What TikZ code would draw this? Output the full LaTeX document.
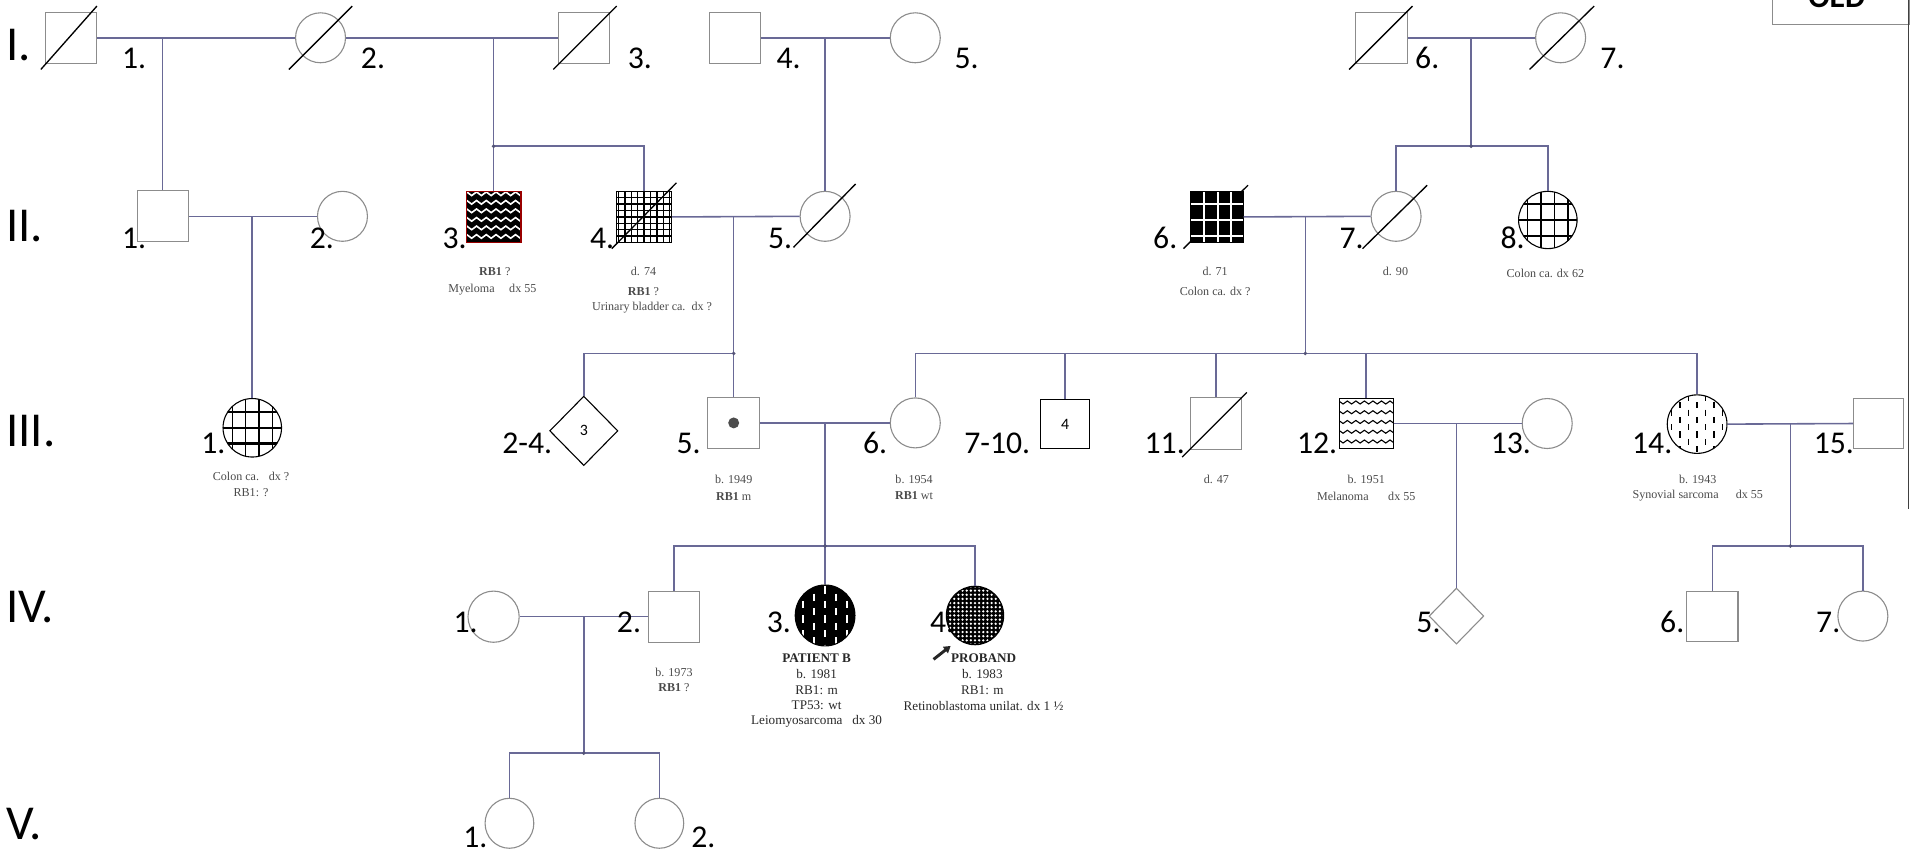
\documentclass[tikz,border=0pt]{standalone}
\usepackage{fontspec}
\setmainfont{Liberation Serif}
\newfontfamily\calib{Carlito}
\usetikzlibrary{shapes.geometric,arrows.meta}
\definecolor{connc}{RGB}{105,105,150}
\definecolor{outl}{RGB}{140,140,140}
\definecolor{annoc}{RGB}{75,75,75}
\definecolor{annod}{RGB}{40,40,40}
\newcommand\deadmark[5]{\draw[slashl] ([shift={(#2,#3)}]#1.center) -- ([shift={(#4,#5)}]#1.center);}
\begin{document}
\begin{tikzpicture}[x=1pt,y=-1pt,
 conn/.style={draw=connc,line width=1.3pt},
 male/.style={rectangle,draw=outl,line width=0.9pt,fill=white,minimum width=42pt,minimum height=42pt,inner sep=0pt},
 fem/.style={ellipse,draw=outl,line width=0.9pt,fill=white,minimum width=41pt,minimum height=41pt,inner sep=0pt},
 unk/.style={diamond,draw=outl,line width=0.9pt,fill=white,minimum width=45pt,minimum height=46pt,inner sep=0pt},
 numlab/.style={font=\calib\fontsize{26}{26}\selectfont,anchor=base west,inner sep=0pt},
 genlab/.style={font=\calib\fontsize{40}{40}\selectfont,anchor=base west,inner sep=0pt},
 anno/.style={font=\fontsize{9.9}{11}\selectfont,text=annoc,inner sep=0pt},
 annob/.style={font=\fontsize{10.8}{12}\selectfont,text=annod,inner sep=0pt},
 slashl/.style={draw=black,line width=1.1pt},
 jdot/.style={fill=connc!80!black},
 gridpat/.style={path picture={\coordinate (ppc) at (path picture bounding box.center);
   \foreach \d in {-16.5,-5.5,5.5,16.5} \draw[black,line width=1.1pt] ([shift={(\d,-30)}]ppc) -- ++(0,60);
   \foreach \d in {-13,0,13} \draw[black,line width=2pt] ([shift={(-30,\d)}]ppc) -- ++(60,0);}}
]
\useasboundingbox (0,0) rectangle (1568,709);

% generation labels
\node[genlab] (gI) at (5,50) {I.};
\node[genlab] (gII) at (5,198) {II.};
\node[genlab] (gIII) at (5,366) {III.};
\node[genlab] (gIV) at (5,511) {IV.};
\node[genlab] (gV) at (5,689) {V.};

% frame pieces
\node[draw=outl,line width=0.9pt,minimum width=112pt,minimum height=40pt,inner sep=0pt,anchor=south west] (oedbox) at (1454,20.5) {};
\begin{scope}
\clip (0,0) rectangle (1568,709);
\node[font=\calib\bfseries\fontsize{26}{26}\selectfont,anchor=base,inner sep=0pt] (oedtxt) at (1507,6) {OED};
\end{scope}
\draw[black!75,line width=0.8pt] (1565.8,0) -- (1565.8,418);

% Generation I
\node[male] (i1) at (58.5,31) {};
\node[fem] (i2) at (263,31) {};
\node[male] (i3) at (479,31) {};
\node[male] (i4) at (603,31) {};
\node[fem] (i5) at (751,31) {};
\node[male] (i6) at (1133.5,31) {};
\node[fem] (i7) at (1280.5,31) {};

% Generation II
\node[male] (ii1) at (133.5,177.5) {};
\node[fem] (ii2) at (281,177.5) {};
\node[male,draw=red!60!black,fill=black,minimum width=45pt,path picture={\coordinate (ppc) at (path picture bounding box.center);
  \foreach \r in {-17.5,-10.5,...,17.5} {\draw[white,line width=1.3pt] ([shift={(-26,\r)}]ppc) \foreach \k in {1,...,7} {-- ++(4,-3) -- ++(4,3)};}}] (ii3) at (405,178) {};
\node[male,draw=black,minimum width=45pt,path picture={\coordinate (ppc) at (path picture bounding box.center);
  \foreach \d in {-21,-15.75,...,21} \draw[black,line width=1.1pt] ([shift={(\d,-25)}]ppc) -- ++(0,50);
  \foreach \d in {-21,-15.75,...,21} \draw[black,line width=1.1pt] ([shift={(-25,\d)}]ppc) -- ++(50,0);}] (ii4) at (528.5,178) {};
\node[fem] (ii5) at (677,177.5) {};
\coordinate (ii6c) at (998.5,178);
\draw[slashl] ([shift={(-27.5,26)}]ii6c) -- ([shift={(25.5,-26)}]ii6c);
\node[male,draw=black,fill=black,minimum width=43pt,path picture={\coordinate (ppc) at (path picture bounding box.center);
  \foreach \d in {-10.5,1,11.5} \draw[white,line width=1.6pt] ([shift={(\d,-25)}]ppc) -- ++(0,50);
  \foreach \d in {-11,2.5,16} \draw[white,line width=1.6pt] ([shift={(-25,\d)}]ppc) -- ++(50,0);}] (ii6) at (ii6c) {};
\node[fem] (ii7) at (1145.5,177.5) {};
\node[fem,draw=black,minimum width=48pt,minimum height=47pt,gridpat] (ii8) at (1270,180.5) {};

% Generation III
\node[fem,draw=black,minimum width=48pt,minimum height=48pt,gridpat] (iii1) at (207,351) {};
\node[unk,draw=black,minimum width=56pt,minimum height=57pt,font=\calib\fontsize{13}{13}\selectfont] (iii24) at (479,353.5) {3};
\node[male,minimum width=43pt] (iii5) at (602,347) {};
\node[circle,fill=black!70,minimum size=9pt,inner sep=0pt] (iii5dot) at (iii5.center) {};
\node[fem] (iii6) at (751,347) {};
\node[male,draw=black,minimum width=40pt,minimum height=40pt,font=\calib\fontsize{13}{13}\selectfont] (iii710) at (874,348) {4};
\node[male] (iii11) at (997.5,347.5) {};
\node[male,draw=black,minimum width=44pt,minimum height=41pt,path picture={\coordinate (ppc) at (path picture bounding box.center);
  \foreach \r in {-16,-8,0,8,16} {\draw[black,line width=0.9pt] ([shift={(-26,\r)}]ppc) \foreach \k in {1,...,8} {-- ++(3.5,-2.5) -- ++(3.5,2.5)};}}] (iii12) at (1121,347.5) {};
\node[fem] (iii13) at (1269.5,347.5) {};
\node[fem,draw=black,minimum width=49pt,minimum height=48pt,path picture={\coordinate (ppc) at (path picture bounding box.center);
  \foreach \c in {0,...,6} {\pgfmathsetmacro\xo{-21+7*\c}\pgfmathsetmacro\yo{mod(\c,2)*6}
   \foreach \j in {-3,...,2} {\pgfmathsetmacro\yy{\j*12+\yo}\draw[black,line width=1.2pt] ([shift={(\xo,\yy)}]ppc) -- ++(0,5);}}}] (iii14) at (1392.5,348) {};
\node[male,minimum width=41pt,minimum height=41pt] (iii15) at (1541.5,347.5) {};

% Generation IV
\node[fem,minimum width=42pt,minimum height=42pt] (iv1) at (405,506) {};
\node[male] (iv2) at (553,506) {};
\node[fem,draw=black,fill=black,minimum width=49pt,minimum height=50pt,path picture={\coordinate (ppc) at (path picture bounding box.center);
  \foreach \c in {0,...,4} {\pgfmathsetmacro\xo{-18+9*\c}\pgfmathsetmacro\yo{mod(\c,2)*6}
   \foreach \j in {-3,...,2} {\pgfmathsetmacro\yy{\j*12+\yo}\draw[white,line width=1.3pt] ([shift={(\xo,\yy)}]ppc) -- ++(0,6);}}}] (iv3) at (677,505) {};
\node[numlab] (lbiv4) at (763,519) {4.};
\node[fem,draw=black,fill=black,minimum width=47pt,minimum height=48pt,path picture={\coordinate (ppc) at (path picture bounding box.center);
  \foreach \i in {-7,...,7} {\foreach \j in {-7,...,7} {\fill[white] ([shift={(\i*3.4,\j*3.4)}]ppc) circle[radius=1.05pt];}}}] (iv4) at (800,505) {};
\node[unk] (iv5) at (1195,505.5) {};
\node[male,minimum height=41pt] (iv6) at (1405,505.5) {};
\node[fem] (iv7) at (1528.5,505.5) {};

% Generation V
\node[fem,minimum width=40pt] (v1) at (418,675.5) {};
\node[fem,minimum width=40pt] (v2) at (541,675.5) {};

% junction coordinates
\coordinate (m12) at (133.5,31);
\coordinate (m23) at (405,31);
\coordinate (m45) at (677,31);
\coordinate (m67) at (1207,31);
\coordinate (s23) at (405,120);
\coordinate (s67) at (1207,120);
\coordinate (mii12) at (207,177.5);
\coordinate (mii45) at (602,177.5);
\coordinate (sii45) at (602,290);
\coordinate (mii67) at (1071,177.5);
\coordinate (sii67) at (1071,290);
\coordinate (miii56) at (677,347);
\coordinate (siii56) at (677,448);
\coordinate (miii1213) at (1195,347.5);
\coordinate (miii1415) at (1469,347.5);
\coordinate (siii1415) at (1469,448);
\coordinate (miv12) at (479,505.5);
\coordinate (siv12) at (479,618);

% connectors
\draw[conn] (i1.east) -- (i2.west);
\draw[conn] (i2.east) -- (i3.west);
\draw[conn] (i4.east) -- (i5.west);
\draw[conn] (i6.east) -- (i7.west);
\draw[conn] (m12) -- (ii1.north);
\draw[conn] (m23) -- (s23) -- (ii3.north);
\draw[conn] (s23) -- (s23 -| ii4.north) -- (ii4.north);
\draw[conn] (m45) -- (ii5.north);
\draw[conn] (m67) -- (s67);
\draw[conn] (ii7.north) -- (ii7.north |- s67) -- (ii8.north |- s67) -- (ii8.north);
\draw[conn] (ii1.east) -- (ii2.west);
\draw[conn] (mii12) -- (iii1.north);
\draw[conn] (ii4.east) -- (ii5.west);
\draw[conn] (mii45) -- (sii45) -- (iii5.north);
\draw[conn] (sii45) -- (sii45 -| iii24.north) -- (iii24.north);
\draw[conn] (ii6.east) -- (ii7.west);
\draw[conn] (mii67) -- (sii67);
\draw[conn] (iii6.north) -- (iii6.north |- sii67) -- (iii14.north |- sii67) -- (iii14.north);
\foreach \n in {iii710,iii11,iii12} \draw[conn] (\n.north) -- (\n.north |- sii67);
\draw[conn] (iii5.east) -- (iii6.west);
\draw[conn] (miii56) -- (siii56);
\draw[conn] (iv2.north) -- (iv2.north |- siii56) -- (iv4.north |- siii56) -- (iv4.north);
\draw[conn] (siii56) -- (iv3.north);
\draw[conn] (iii12.east) -- (iii13.west);
\draw[conn] (miii1213) -- (iv5.north);
\draw[conn] (iii14.east) -- (iii15.west);
\draw[conn] (miii1415) -- (siii1415);
\draw[conn] (iv6.north) -- (iv6.north |- siii1415) -- (iv7.north |- siii1415) -- (iv7.north);
\draw[conn] (iv1.east) -- (iv2.west);
\draw[conn] (miv12) -- (siv12);
\draw[conn] (v1.north) -- (v1.north |- siv12) -- (v2.north |- siv12) -- (v2.north);
\foreach \c in {s23,s67,sii45,sii67,siii56,siii1415,siv12} \fill[jdot] (\c) circle[radius=1.6pt];

% deceased marks
\deadmark{i1}{-25}{26}{21}{-26}
\deadmark{i2}{-26}{26}{26}{-26}
\deadmark{i3}{-25}{26}{27}{-26}
\deadmark{i6}{-26.5}{26}{25.5}{-26}
\deadmark{i7}{-25.5}{26}{27.5}{-26}
\deadmark{ii4}{-26.5}{26}{26.5}{-28}
\deadmark{ii5}{-26}{25.5}{25}{-26.5}
\deadmark{ii7}{-27.5}{26.5}{25.5}{-25.5}
\deadmark{iii11}{-27.5}{27.5}{25.5}{-25.5}

% proband arrow
\coordinate (pat) at (766,541);
\coordinate (pah) at (780,530);
\draw[black!85,line width=2.4pt,-{Triangle[length=5.5pt,width=6.5pt]}] (pat) -- (pah);

% number labels
\node[numlab] (lbi1) at (100,56) {1.};
\node[numlab] (lbi2) at (296,56) {2.};
\node[numlab] (lbi3) at (515,56) {3.};
\node[numlab] (lbi4) at (637,56) {4.};
\node[numlab] (lbi5) at (783,56) {5.};
\node[numlab] (lbi6) at (1161,56) {6.};
\node[numlab] (lbi7) at (1313,56) {7.};
\node[numlab] (lbii1) at (100,204) {1.};
\node[numlab] (lbii2) at (254,204) {2.};
\node[numlab] (lbii3) at (363,204) {3.};
\node[numlab] (lbii4) at (484,204) {4.};
\node[numlab] (lbii5) at (630,204) {5.};
\node[numlab] (lbii6) at (946,204) {6.};
\node[numlab] (lbii7) at (1099,204) {7.};
\node[numlab] (lbii8) at (1231,204) {8.};
\node[numlab] (lbiii1) at (165,372) {1.};
\node[numlab] (lbiii24) at (412,372) {2-4.};
\node[numlab] (lbiii5) at (555,372) {5.};
\node[numlab] (lbiii6) at (708,372) {6.};
\node[numlab] (lbiii710) at (791,372) {7-10.};
\node[numlab] (lbiii11) at (939,372) {11.};
\node[numlab] (lbiii12) at (1064,372) {12.};
\node[numlab] (lbiii13) at (1223,372) {13.};
\node[numlab] (lbiii14) at (1339,372) {14.};
\node[numlab] (lbiii15) at (1488,372) {15.};
\node[numlab] (lbiv1) at (372,519) {1.};
\node[numlab] (lbiv2) at (506,519) {2.};
\node[numlab] (lbiv3) at (629,519) {3.};
\node[numlab] (lbiv5) at (1162,519) {5.};
\node[numlab] (lbiv6) at (1362,519) {6.};
\node[numlab] (lbiv7) at (1490,519) {7.};
\node[numlab] (lbv1) at (380,695) {1.};
\node[numlab] (lbv2) at (567,695) {2.};

% annotations
\node[anno] (aii3a) at (406,223) {\textbf{RB1} ?};
\node[anno] (aii3b) at (404,238) {Myeloma\hspace{12pt}dx 55};
\node[anno] (aii4a) at (528,223) {d. 74};
\node[anno] (aii4b) at (528,239) {\textbf{RB1} ?};
\node[anno] (aii4c) at (535,252) {Urinary bladder ca.\hspace{5pt}dx ?};
\node[anno] (aii6a) at (997,223) {d. 71};
\node[anno] (aii6b) at (997,239) {Colon ca. dx ?};
\node[anno] (aii7a) at (1145,223) {d. 90};
\node[anno] (aii8a) at (1268,224) {Colon ca. dx 62};
\node[anno] (aiii1a) at (206,391) {Colon ca.\hspace{8pt}dx ?};
\node[anno] (aiii1b) at (206,404) {RB1: ?};
\node[anno] (aiii5a) at (602,393) {b. 1949};
\node[anno] (aiii5b) at (602,407) {\textbf{RB1} m};
\node[anno] (aiii6a) at (750,393) {b. 1954};
\node[anno] (aiii6b) at (750,407) {\textbf{RB1} wt};
\node[anno] (aiii11a) at (998,393) {d. 47};
\node[anno] (aiii12a) at (1121,393) {b. 1951};
\node[anno] (aiii12b) at (1121,407) {Melanoma\hspace{16pt}dx 55};
\node[anno] (aiii14a) at (1393,393) {b. 1943};
\node[anno] (aiii14b) at (1393,407) {Synovial sarcoma\hspace{14pt}dx 55};
\node[anno] (aiv2a) at (553,552) {b. 1973};
\node[anno] (aiv2b) at (553,564) {\textbf{RB1} ?};
\node[annob] (aiv3a) at (670,540) {\textbf{PATIENT B}};
\node[annob] (aiv3b) at (670,553) {b. 1981};
\node[annob] (aiv3c) at (670,566) {RB1: m};
\node[annob] (aiv3d) at (670,579) {TP53: wt};
\node[annob] (aiv3e) at (670,592) {Leiomyosarcoma\hspace{8pt}dx 30};
\node[annob] (aiv4a) at (807,540) {\textbf{PROBAND}};
\node[annob] (aiv4b) at (806,553) {b. 1983};
\node[annob] (aiv4c) at (806,566) {RB1: m};
\node[annob] (aiv4d) at (807,579) {Retinoblastoma unilat. dx 1 ½};
\end{tikzpicture}
\end{document}
